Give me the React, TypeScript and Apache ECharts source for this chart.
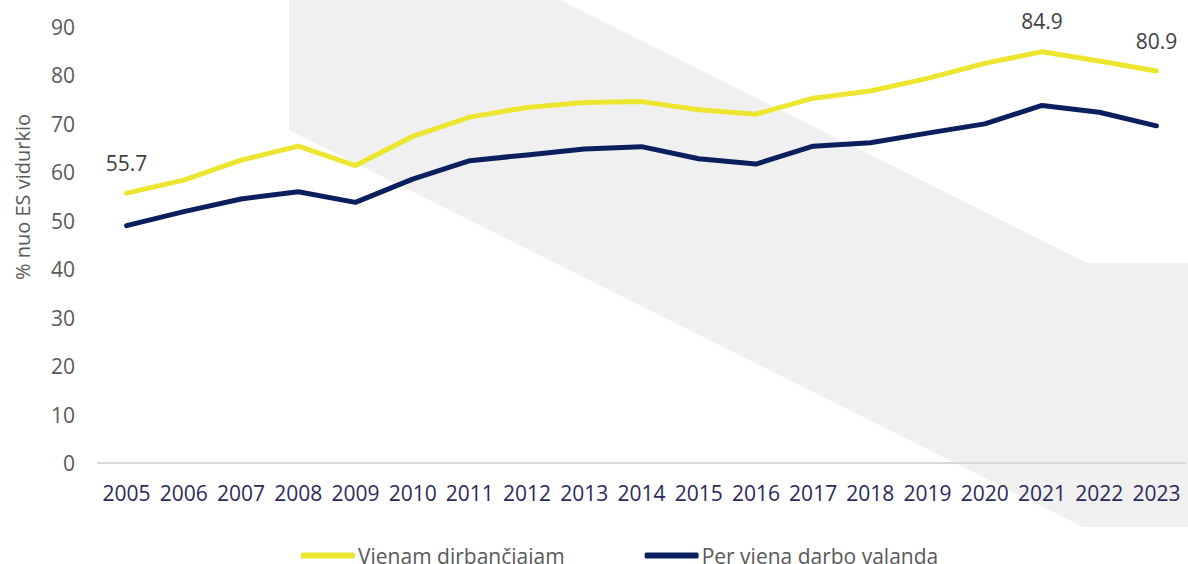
import React, { useEffect, useRef } from "react";
import * as echarts from "echarts";

const years = ["2005","2006","2007","2008","2009","2010","2011","2012","2013","2014","2015","2016","2017","2018","2019","2020","2021","2022","2023"];
const perWorker = [55.7, 58.4, 62.5, 65.4, 61.4, 67.4, 71.4, 73.4, 74.4, 74.6, 72.9, 72.0, 75.3, 76.8, 79.4, 82.5, 84.9, 83.0, 80.9];
const perHour = [49.0, 51.9, 54.5, 56.0, 53.8, 58.6, 62.4, 63.6, 64.8, 65.3, 62.8, 61.7, 65.4, 66.1, 68.1, 70.0, 73.8, 72.4, 69.6];
const labelledYears = ["2005", "2021", "2023"];
const seriesNames = ["Vienam dirbančiajam", "Per vieną darbo valandą"];
const yAxisTitle = "% nuo ES vidurkio";

const FONT = "'Open Sans', 'Noto Sans', sans-serif";

export default function App() {
  const ref = useRef<HTMLDivElement>(null);
  useEffect(() => {
    if (!ref.current) return;
    const chart = echarts.init(ref.current, null, { renderer: "svg" });
    chart.setOption({
      animation: false,
      backgroundColor: "#ffffff",
      textStyle: { fontFamily: FONT },
      graphic: [
        {
          type: "polygon",
          z: 0,
          silent: true,
          shape: {
            points: [[289, 0], [560, 0], [1087, 263], [1188, 263], [1188, 527], [1083, 527], [289, 130]],
          },
          style: { fill: "#f0f0f0" },
        },
        {
          type: "text",
          z: 10,
          x: 22,
          y: 197,
          rotation: Math.PI / 2,
          style: {
            text: yAxisTitle,
            fill: "#595959",
            font: `20px ${FONT}`,
            align: "center",
            verticalAlign: "middle",
          },
        },
      ],
      grid: { left: 98, right: 3, top: 27, bottom: 101, containLabel: false },
      legend: {
        left: 296,
        top: 540,
        icon: "roundRect",
        itemWidth: 54,
        itemHeight: 6,
        itemGap: 80,
        textStyle: { color: "#595959", fontSize: 21, fontFamily: FONT, padding: [0, 0, 0, -2] },
        data: seriesNames,
      },
      xAxis: {
        type: "category",
        data: years,
        boundaryGap: true,
        axisLine: { show: true, lineStyle: { color: "#d9d9d9", width: 2 } },
        axisTick: { show: false },
        axisLabel: { color: "#2b2a5a", fontSize: 21, margin: 19, fontFamily: FONT, interval: 0 },
        splitLine: { show: false },
      },
      yAxis: {
        type: "value",
        min: 0,
        max: 90,
        interval: 10,
        axisLine: { show: false },
        axisTick: { show: false },
        axisLabel: { color: "#595959", fontSize: 21, margin: 23, fontFamily: FONT },
        splitLine: { show: false },
      },
      series: [
        {
          name: seriesNames[0],
          type: "line",
          data: perWorker,
          symbol: "circle",
          symbolSize: 0.1,
          showSymbol: true,
          z: 3,
          lineStyle: { color: "#ede630", width: 5, cap: "round", join: "round" },
          itemStyle: { color: "#ede630" },
          label: {
            show: true,
            position: "top",
            distance: 20,
            color: "#404040",
            fontSize: 21,
            fontFamily: FONT,
            formatter: (p: any) => (labelledYears.includes(p.name) ? Number(p.value).toFixed(1) : ""),
          },
        },
        {
          name: seriesNames[1],
          type: "line",
          data: perHour,
          symbol: "none",
          z: 3,
          lineStyle: { color: "#0b1f5e", width: 5, cap: "round", join: "round" },
          itemStyle: { color: "#0b1f5e" },
        },
      ],
    });
    return () => chart.dispose();
  }, []);
  return <div ref={ref} style={{ position: "fixed", left: 0, top: 0, width: 1188, height: 564 }} />;
}
